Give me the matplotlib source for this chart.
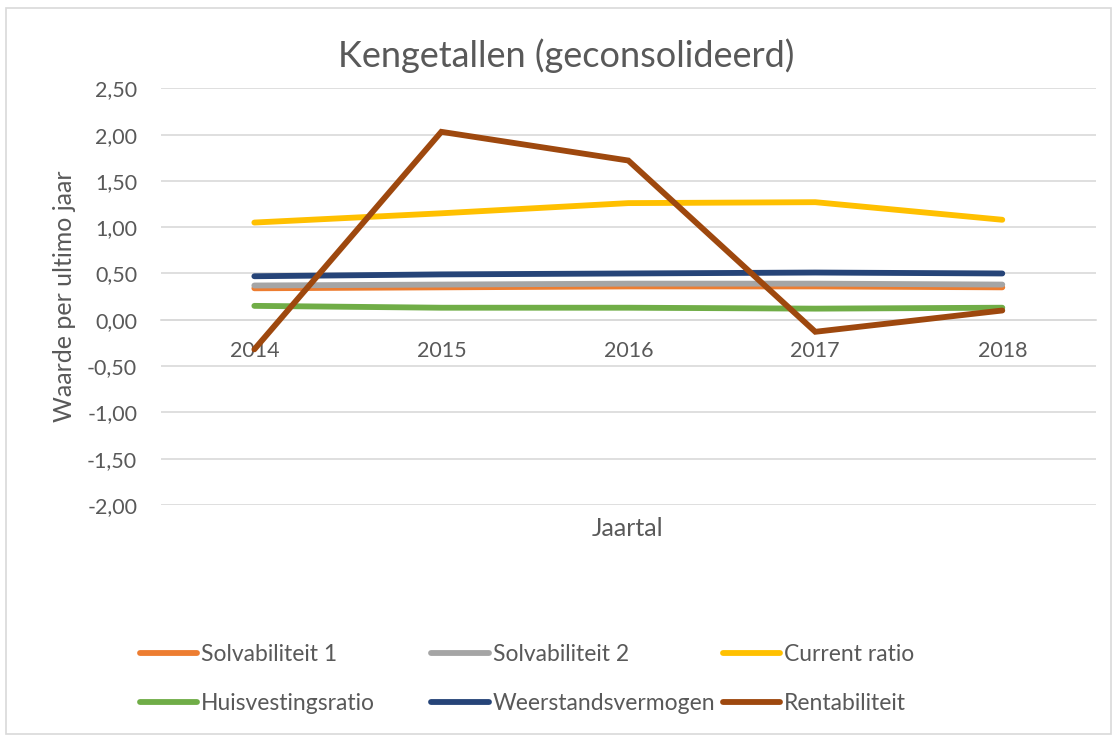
import numpy as np
import matplotlib.pyplot as plt
from matplotlib.patches import Rectangle

plt.rcParams['font.family'] = ['Lato', 'DejaVu Sans']

# kengetallen per ultimo jaar
jaren = ['2014', '2015', '2016', '2017', '2018']
solvabiliteit_1 = [0.34, 0.35, 0.36, 0.36, 0.35]
solvabiliteit_2 = [0.37, 0.38, 0.39, 0.39, 0.38]
current_ratio = [1.05, 1.15, 1.26, 1.27, 1.08]
huisvestingsratio = [0.15, 0.13, 0.13, 0.12, 0.13]
weerstandsvermogen = [0.47, 0.49, 0.50, 0.51, 0.50]
rentabiliteit = [-0.32, 2.03, 1.72, -0.13, 0.10]

reeksen = [
    ('Solvabiliteit 1', solvabiliteit_1, '#ED7D31'),
    ('Solvabiliteit 2', solvabiliteit_2, '#A5A5A5'),
    ('Current ratio', current_ratio, '#FFC000'),
    ('Huisvestingsratio', huisvestingsratio, '#70AD47'),
    ('Weerstandsvermogen', weerstandsvermogen, '#264478'),
    ('Rentabiliteit', rentabiliteit, '#9E480E'),
]

TEKST = '#595959'
RASTER = '#D9D9D9'

fig = plt.figure(figsize=(11.17, 7.36), dpi=100)
fig.patches.append(Rectangle((0.005, 0.003), 0.99, 0.986, transform=fig.transFigure,
                             fill=False, edgecolor=RASTER, linewidth=1.2))

ax = fig.add_axes([0.144, 0.314, 0.837, 0.566])
x = np.arange(len(jaren))
lijnen = []
for naam, waarden, kleur in reeksen:
    l, = ax.plot(x, waarden, color=kleur, linewidth=4.2, solid_capstyle='round',
                 solid_joinstyle='miter', label=naam, zorder=3)
    lijnen.append(l)

ax.set_xlim(-0.5, len(jaren) - 0.5)
ax.set_ylim(-2.0, 2.5)
yt = np.arange(-2.0, 2.51, 0.5)
ax.set_yticks(yt)
ax.set_yticklabels([f'{v:.2f}'.replace('.', ',') for v in yt])
ax.set_xticks(x)
ax.set_xticklabels(jaren)
ax.grid(axis='y', color=RASTER, linewidth=1.2, zorder=0)

for s in ['top', 'right', 'left']:
    ax.spines[s].set_visible(False)
ax.spines['bottom'].set_position(('data', 0))
ax.spines['bottom'].set_color(RASTER)
ax.spines['bottom'].set_linewidth(1.2)
ax.tick_params(axis='both', length=0, labelsize=15.5, labelcolor=TEKST)
ax.tick_params(axis='y', pad=17)
ax.tick_params(axis='x', pad=15)

fig.text(0.507, 0.925, 'Kengetallen (geconsolideerd)', fontsize=26, color=TEKST,
         ha='center', va='center')
ax.set_ylabel('Waarde per ultimo jaar', fontsize=18, color=TEKST, labelpad=8)
fig.text(0.562, 0.282, 'Jaartal', fontsize=18, color=TEKST, ha='center', va='center')

# legenda in drie kolommen van twee rijen
kolom_x = [0.117, 0.378, 0.639]
for k, xk in enumerate(kolom_x):
    handles = [lijnen[k], lijnen[k + 3]]
    leg = fig.legend(handles=handles, labels=[h.get_label() for h in handles],
                     loc='lower left', bbox_to_anchor=(xk, 0.018),
                     frameon=False, fontsize=16.5, handlelength=2.5,
                     handletextpad=0.17, labelspacing=1.19, borderaxespad=0)
    for t in leg.get_texts():
        t.set_color(TEKST)

fig.savefig('out.png', dpi=100)
